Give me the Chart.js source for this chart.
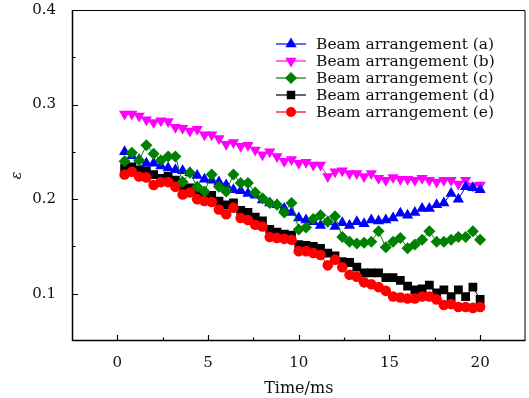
<!DOCTYPE html>
<html><head><meta charset="utf-8">
<script src="https://cdn.jsdelivr.net/npm/chart.js@4"></script>
<style>html,body{margin:0;padding:0;background:#fff;overflow:hidden}canvas{display:block}</style>
</head><body><canvas id="c" width="529" height="398"></canvas>
<script>
const times = [0.4,0.8,1.2,1.6,2.0,2.4,2.8,3.2,3.6,4.0,4.4,4.8,5.2,5.6,6.0,6.4,6.8,7.2,7.6,8.0,8.4,8.8,9.2,9.6,10.0,10.4,10.8,11.2,11.6,12.0,12.4,12.8,13.2,13.6,14.0,14.4,14.8,15.2,15.6,16.0,16.4,16.8,17.2,17.6,18.0,18.4,18.8,19.2,19.6,20.0];
const seriesA = [0.250,0.246,0.242,0.238,0.238,0.235,0.233,0.231,0.230,0.228,0.225,0.221,0.220,0.218,0.215,0.210,0.209,0.206,0.204,0.199,0.196,0.194,0.190,0.186,0.180,0.178,0.176,0.172,0.176,0.171,0.175,0.172,0.176,0.174,0.178,0.177,0.178,0.180,0.185,0.183,0.186,0.190,0.190,0.194,0.196,0.206,0.200,0.213,0.212,0.210];
const seriesB = [0.290,0.290,0.288,0.284,0.281,0.283,0.282,0.276,0.275,0.272,0.274,0.268,0.268,0.264,0.258,0.260,0.256,0.257,0.252,0.247,0.250,0.245,0.240,0.242,0.238,0.239,0.236,0.236,0.224,0.229,0.230,0.227,0.227,0.224,0.227,0.222,0.220,0.223,0.221,0.221,0.220,0.222,0.220,0.218,0.220,0.220,0.216,0.220,0.214,0.215];
const seriesC = [0.240,0.249,0.241,0.257,0.248,0.241,0.245,0.245,0.218,0.228,0.213,0.208,0.226,0.213,0.208,0.226,0.217,0.217,0.207,0.201,0.196,0.194,0.186,0.196,0.168,0.170,0.179,0.183,0.176,0.182,0.160,0.155,0.153,0.154,0.155,0.166,0.149,0.155,0.159,0.148,0.152,0.157,0.166,0.155,0.155,0.157,0.160,0.160,0.166,0.157];
const seriesD = [0.233,0.234,0.231,0.230,0.226,0.222,0.224,0.220,0.214,0.212,0.207,0.205,0.204,0.198,0.194,0.196,0.188,0.186,0.181,0.177,0.168,0.165,0.163,0.162,0.152,0.151,0.150,0.148,0.143,0.140,0.134,0.133,0.128,0.122,0.122,0.122,0.117,0.117,0.114,0.108,0.104,0.105,0.109,0.101,0.104,0.097,0.104,0.097,0.107,0.094];
const seriesE = [0.226,0.229,0.224,0.223,0.215,0.218,0.218,0.213,0.205,0.207,0.200,0.198,0.197,0.189,0.184,0.191,0.180,0.178,0.173,0.171,0.160,0.159,0.158,0.157,0.145,0.145,0.143,0.141,0.130,0.136,0.128,0.120,0.118,0.112,0.110,0.107,0.103,0.097,0.096,0.095,0.095,0.097,0.097,0.094,0.088,0.089,0.086,0.086,0.085,0.086];
const seriesNames = ['Beam arrangement (a)','Beam arrangement (b)','Beam arrangement (c)','Beam arrangement (d)','Beam arrangement (e)'];
const xTicks = [0,5,10,15,20];
const xMinor = [2.5,7.5,12.5,17.5];
const yTicks = [0.1,0.2,0.3,0.4];
const yMinor = [0.15,0.25,0.35];
const xTitle = 'Time/ms';
const yTitle = 'ε';

const styles = [
  {color:'#0000ff', pointStyle:'triangle', rotation:0, radius:6.5},
  {color:'#ff00ff', pointStyle:'triangle', rotation:180, radius:6.5},
  {color:'#008000', pointStyle:'rectRot', rotation:0, radius:6},
  {color:'#000000', pointStyle:'rect', rotation:0, radius:6.2},
  {color:'#ff0000', pointStyle:'circle', rotation:0, radius:5.3}
];
const allSeries = [seriesA, seriesB, seriesC, seriesD, seriesE];
const FONT = "'DejaVu Serif', serif";

const datasets = allSeries.map((s,i)=>({
  label: seriesNames[i],
  data: times.map((t,k)=>({x:t, y:s[k]})),
  showLine: true,
  borderColor: styles[i].color,
  backgroundColor: styles[i].color,
  borderWidth: 1,
  pointStyle: styles[i].pointStyle,
  rotation: styles[i].rotation,
  pointRadius: styles[i].radius,
  pointBorderWidth: 0,
  pointBackgroundColor: styles[i].color,
  pointBorderColor: styles[i].color
}));
datasets.forEach((d,i)=>{ d.order = [1,3,0,4,2][i]; });

const framePlugin = {
  id:'frame',
  afterDraw(chart){
    const {ctx, chartArea:a, scales:{x,y}} = chart;
    ctx.save();
    ctx.strokeStyle='#000';
    ctx.lineWidth=1;
    ctx.beginPath();
    ctx.moveTo(a.left+0.5, a.top+0.5); ctx.lineTo(a.right-0.5, a.top+0.5); ctx.lineTo(a.right-0.5, a.bottom-0.5);
    ctx.stroke();
    ctx.lineWidth=1.5;
    ctx.beginPath();
    ctx.moveTo(a.left+0.5, a.top); ctx.lineTo(a.left+0.5, a.bottom-0.5); ctx.lineTo(a.right, a.bottom-0.5);
    ctx.stroke();
    ctx.lineWidth=1.2;
    ctx.beginPath();
    xTicks.forEach(v=>{const p=Math.round(x.getPixelForValue(v))+0.5; ctx.moveTo(p,a.bottom); ctx.lineTo(p,a.bottom-6);});
    xMinor.forEach(v=>{const p=Math.round(x.getPixelForValue(v))+0.5; ctx.moveTo(p,a.bottom); ctx.lineTo(p,a.bottom-3.5);});
    yTicks.forEach(v=>{const p=Math.round(y.getPixelForValue(v))+0.5; ctx.moveTo(a.left,p); ctx.lineTo(a.left+6,p);});
    yMinor.forEach(v=>{const p=Math.round(y.getPixelForValue(v))+0.5; ctx.moveTo(a.left,p); ctx.lineTo(a.left+3.5,p);});
    ctx.stroke();
    // legend
    const lx = 276, ly0 = 44, dy = 17;
    ctx.font = "15.5px " + FONT;
    ctx.textBaseline = 'middle';
    const legendStyles = [6.5,6.5,6,6,5];
    seriesNames.forEach((name,i)=>{
      const d = chart.data.datasets[i];
      const yy = ly0 + i*dy;
      ctx.strokeStyle = d.borderColor; ctx.lineWidth = 1.2;
      ctx.beginPath(); ctx.moveTo(lx, yy); ctx.lineTo(lx+30, yy); ctx.stroke();
      ctx.fillStyle = d.pointBackgroundColor;
      Chart.helpers.drawPoint(ctx, {pointStyle:d.pointStyle, radius:legendStyles[i], rotation:d.rotation, borderWidth:0}, lx+15, yy);
      ctx.fillStyle = '#111';
      ctx.fillText(name, lx+40, yy+1);
    });
    ctx.restore();
  }
};

new Chart(document.getElementById('c'), {
  type:'scatter',
  data:{datasets},
  plugins:[framePlugin],
  options:{
    responsive:false, animation:false, devicePixelRatio:1,
    layout:{autoPadding:false, padding:{top:10,right:3.5,left:0,bottom:0}},
    plugins:{legend:{display:false}, tooltip:{enabled:false}},
    scales:{
      x:{type:'linear', min:-2.5, max:22.5,
        afterBuildTicks(s){ s.ticks = xTicks.map(v=>({value:v})); },
        afterFit(s){ s.height = 57; s.paddingLeft = 0; s.paddingRight = 0; },
        grid:{display:false}, border:{display:false},
        ticks:{color:'#111', font:{family:FONT, size:15}, padding:5, maxRotation:0},
        title:{display:true, text:xTitle, color:'#111', font:{family:FONT, size:16}, padding:{top:0,bottom:0}}
      },
      y:{type:'linear', min:0.05, max:0.4,
        afterBuildTicks(s){ s.ticks = yTicks.map(v=>({value:v})); },
        afterFit(s){ s.width = 72; s.paddingTop = 0; s.paddingBottom = 0; },
        grid:{display:false}, border:{display:false},
        ticks:{color:'#111', font:{family:FONT, size:15}, padding:8, callback:v=>v.toFixed(1)},
        title:{display:true, text:yTitle, color:'#111', font:{family:FONT, size:14, style:'italic'}, padding:{top:9,bottom:0}}
      }
    }
  }
});
</script></body></html>
